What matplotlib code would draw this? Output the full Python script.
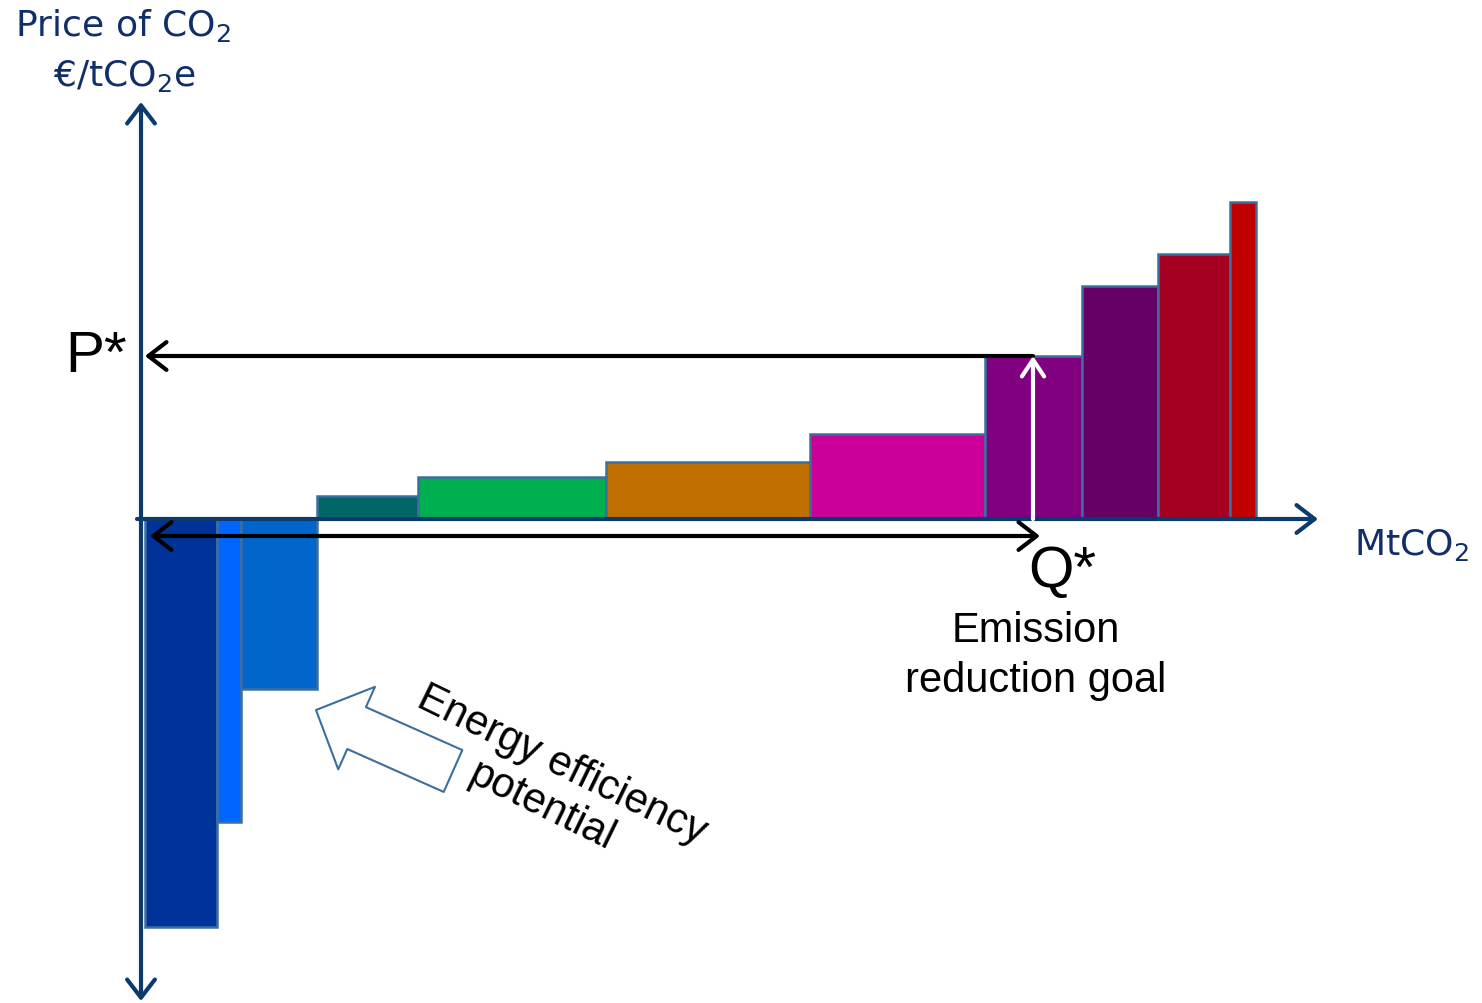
import matplotlib.pyplot as plt
import numpy as np

# abatement options: width (MtCO2) and cost (EUR/tCO2e), in chart units
widths = [72, 24, 76, 101, 188, 204, 175, 97, 76, 72, 26]
costs = [-408, -303, -170, 23, 42, 57, 85, 163, 233, 265, 317]
colors = ['#003399', '#0066FF', '#0066CC', '#006666', '#00B050', '#C07000',
          '#CC0099', '#800080', '#660066', '#A50021', '#C00000']
start_q = 4
q_star = 892
p_star = 163

plt.rcParams['mathtext.default'] = 'regular'

navy = '#0B3A6C'
text_navy = '#0F2E6A'
edge = '#3C6E9E'

fig = plt.figure(figsize=(14.82, 10.04), dpi=100)
ax = fig.add_axes([0, 0, 1, 1])
ax.set_xlim(-141, 1341)
ax.set_ylim(-484, 520)
ax.axis('off')

lefts = start_q + np.concatenate([[0], np.cumsum(widths)[:-1]])
ax.bar(lefts, costs, width=widths, align='edge', color=colors,
       edgecolor=edge, linewidth=1.8, zorder=2)

# axes with arrows
ax.annotate('', xy=(0, 417), xytext=(0, -482),
            arrowprops=dict(arrowstyle='<->,head_length=0.65,head_width=0.5',
                            mutation_scale=20, lw=3, color=navy,
                            shrinkA=0, shrinkB=0), zorder=3)
ax.annotate('', xy=(1177, 0), xytext=(-4, 0),
            arrowprops=dict(arrowstyle='->,head_length=0.65,head_width=0.5',
                            mutation_scale=20, lw=3, color=navy,
                            shrinkA=0, shrinkB=0), zorder=3)

# P* and Q*
ax.annotate('', xy=(4, p_star), xytext=(q_star, p_star),
            arrowprops=dict(arrowstyle='->,head_length=0.65,head_width=0.5',
                            mutation_scale=20, lw=3, color='black',
                            shrinkA=0, shrinkB=0), zorder=4)
ax.annotate('', xy=(q_star + 7, -17), xytext=(9, -17),
            arrowprops=dict(arrowstyle='<->,head_length=0.65,head_width=0.5',
                            mutation_scale=20, lw=3, color='black',
                            shrinkA=0, shrinkB=0), zorder=4)
ax.annotate('', xy=(q_star, p_star), xytext=(q_star, 0),
            arrowprops=dict(arrowstyle='->,head_length=0.6,head_width=0.4',
                            mutation_scale=20, lw=3, color='white',
                            shrinkA=0, shrinkB=0), zorder=4)

# hollow block arrow
ax.annotate('', xy=(175, -191), xytext=(312, -252),
            arrowprops=dict(arrowstyle='simple,head_length=32,head_width=65,tail_width=33',
                            mutation_scale=1, fc='white', ec=edge, lw=1.5,
                            shrinkA=0, shrinkB=0), zorder=3)

# texts
ax.text(-18, 495, 'Price of CO$_2$', fontsize=26, color=text_navy,
        family='DejaVu Sans', ha='center', va='center')
ax.text(-17, 444, '€/tCO$_2$e', fontsize=26, color=text_navy,
        family='DejaVu Sans', ha='center', va='center')
ax.text(1213, -25, 'MtCO$_2$', fontsize=26, color=text_navy,
        family='DejaVu Sans', ha='left', va='center')
ax.text(-76, 163, 'P*', fontsize=42, family='Liberation Sans',
        ha='left', va='center')
ax.text(921, -52, 'Q*', fontsize=42, family='Liberation Sans',
        ha='center', va='center')
ax.text(895, -136, 'Emission\nreduction goal', fontsize=30,
        family='Liberation Sans', ha='center', va='center', linespacing=1.3)
ax.text(411, -266, 'Energy efficiency\npotential', fontsize=30,
        family='Liberation Sans', ha='center', va='center', rotation=-26,
        rotation_mode='anchor', linespacing=1.2)

fig.savefig('out.png', dpi=100)
